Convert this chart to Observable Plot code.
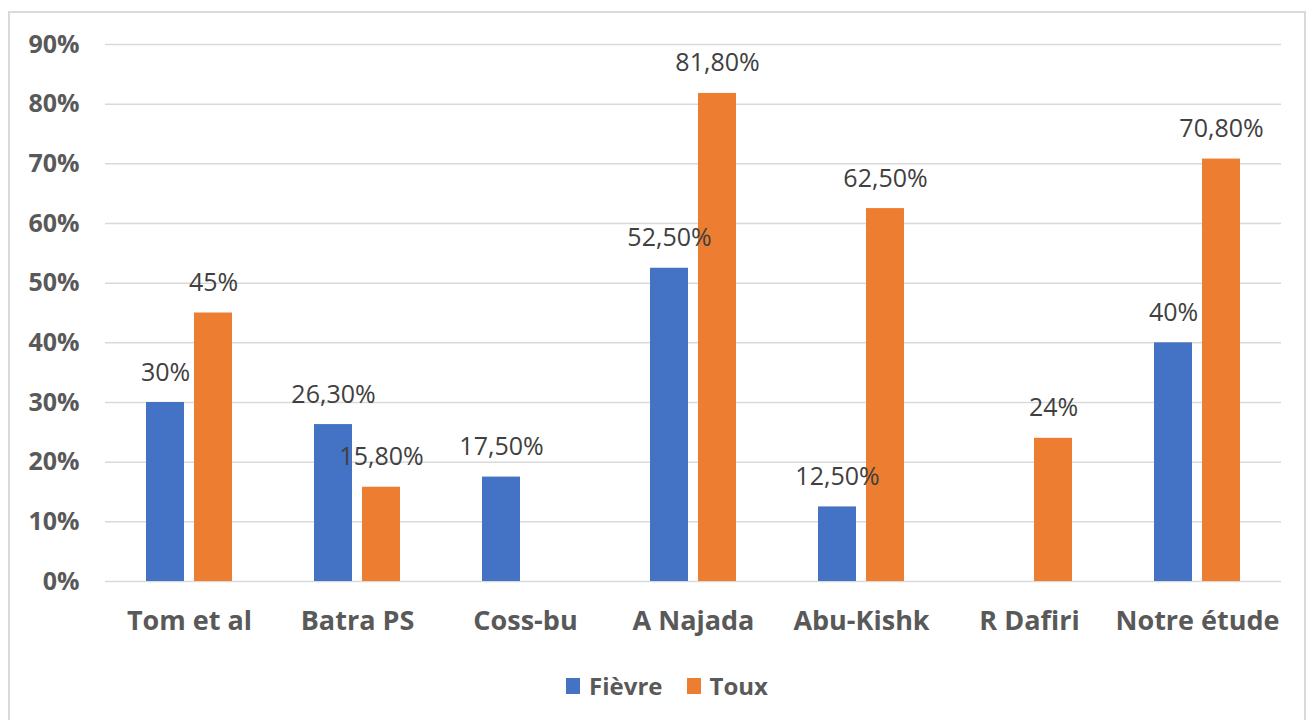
<!DOCTYPE html>
<html>
<head>
<meta charset="utf-8">
<script src="https://cdn.jsdelivr.net/npm/d3@7"></script>
<script src="https://cdn.jsdelivr.net/npm/@observablehq/plot@0.6"></script>
<style>
  html, body { margin: 0; padding: 0; background: #fff; }
  body { width: 1314px; height: 720px; position: relative; overflow: hidden; font-family: "Open Sans", "Noto Sans", sans-serif; }
  #frame { position: absolute; left: 8px; top: 11px; width: 1298px; height: 740px; border: 2px solid #d9d9d9; box-sizing: border-box; }
  #chart { position: absolute; left: 0; top: 0; }
  #legend { position: absolute; left: 0; width: 1314px; top: 669px; display: flex; justify-content: center; gap: 24px; font-weight: bold; font-size: 24px; color: #595959; padding-left: 20px; box-sizing: border-box; }
  .item { display: flex; align-items: center; gap: 9px; }
  .sw { width: 14px; height: 16px; display: inline-block; }
</style>
</head>
<body>
<div id="frame"></div>
<div id="chart"></div>
<div id="legend"></div>
<script>
const categories = ["Tom et al", "Batra PS", "Coss-bu", "A Najada", "Abu-Kishk", "R Dafiri", "Notre étude"];
const series = ["Fièvre", "Toux"];
const fievre = [30, 26.3, 17.5, 52.5, 12.5, null, 40];
const toux = [45, 15.8, null, 81.8, 62.5, 24, 70.8];
const colors = ["#4472C4", "#ED7D31"];
const yTicks = [0, 10, 20, 30, 40, 50, 60, 70, 80, 90];

const data = [];
categories.forEach((c, i) => {
  if (fievre[i] != null) data.push({cat: c, serie: series[0], value: fievre[i]});
  if (toux[i] != null) data.push({cat: c, serie: series[1], value: toux[i]});
});
const fmt = v => (Number.isInteger(v) ? String(v) : v.toFixed(2).replace(".", ",")) + "%";

const chart = Plot.plot({
  width: 1314,
  height: 650,
  marginTop: 44,
  marginBottom: 69,
  marginLeft: 104,
  marginRight: 32,
  style: {fontFamily: "'Open Sans', 'Noto Sans', sans-serif", background: "transparent"},
  fx: {domain: categories, padding: 0, label: null},
  x: {domain: series, paddingInner: 0.21, paddingOuter: 0.855, axis: null},
  y: {domain: [0, 90], axis: null, label: null},
  color: {domain: series, range: colors},
  marks: [
    Plot.ruleY(yTicks, {stroke: "#d9d9d9", strokeWidth: 1.5}),
    Plot.barY(data, {fx: "cat", x: "serie", y: "value", fill: "serie"}),
    Plot.text(data, {fx: "cat", x: "serie", y: "value", text: d => fmt(d.value), dy: -30, fontSize: 25, fill: "#404040"}),
    Plot.axisY(yTicks, {anchor: "left", tickSize: 0, tickPadding: 26, tickFormat: d => d + "%", fontSize: 25, fontWeight: "bold", fill: "#595959", label: null}),
    Plot.axisFx({anchor: "bottom", tickSize: 0, tickPadding: 29, fontSize: 27, fontWeight: "bold", fill: "#595959", label: null})
  ]
});
document.getElementById("chart").appendChild(chart);

const legend = document.getElementById("legend");
series.forEach((s, i) => {
  const item = document.createElement("div");
  item.className = "item";
  const sw = document.createElement("span");
  sw.className = "sw";
  sw.style.background = colors[i];
  const t = document.createElement("span");
  t.textContent = s;
  item.appendChild(sw);
  item.appendChild(t);
  legend.appendChild(item);
});
</script>
</body>
</html>
